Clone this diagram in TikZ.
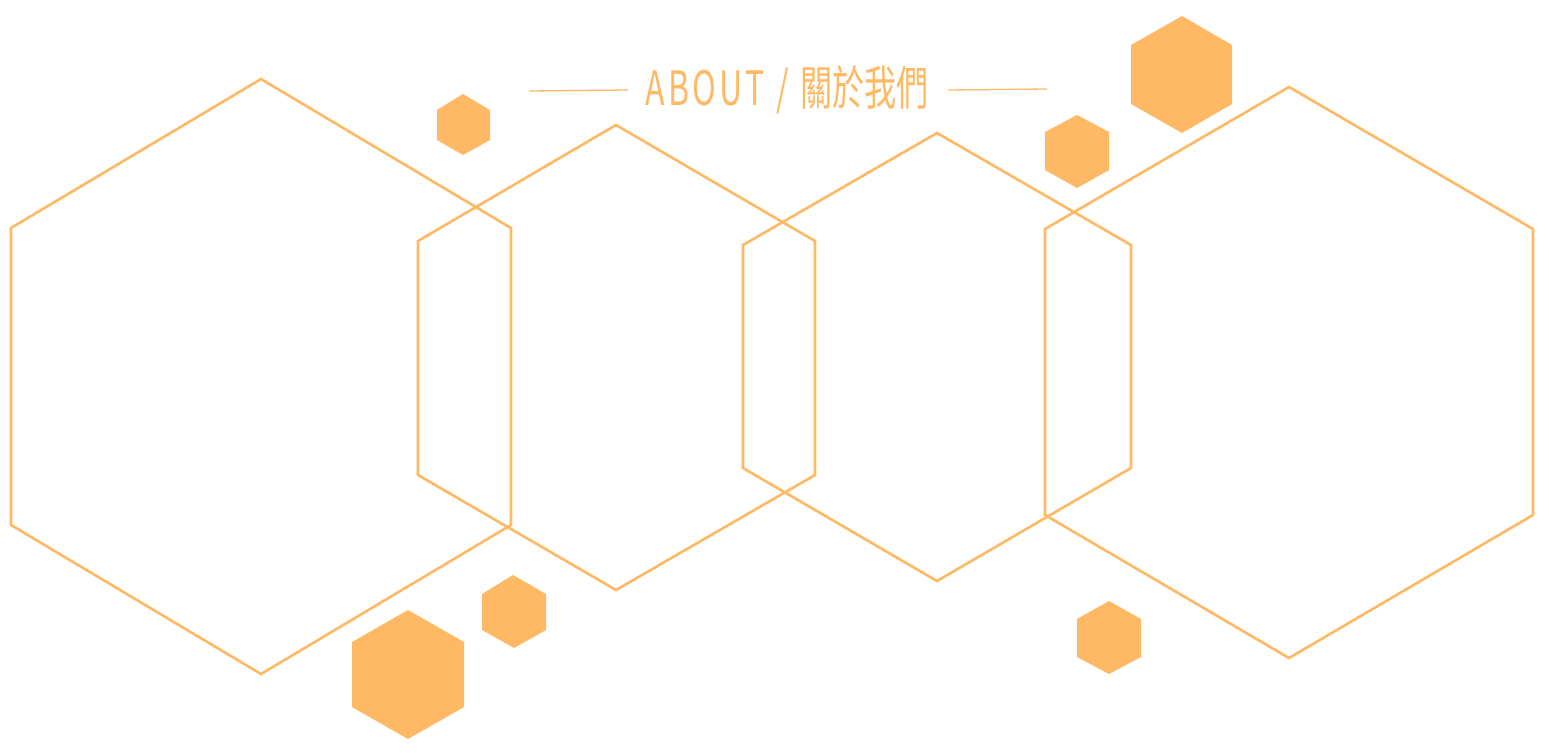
\documentclass[tikz,border=0pt]{standalone}
\usepackage{fontspec}
\newfontfamily\cjk{Noto Sans CJK TC}
\definecolor{hexor}{HTML}{FFB964}
\tikzset{
  hexline/.style={draw=hexor, line width=2.6pt, line join=miter},
  hexfill/.style={fill=hexor, draw=none},
  titleline/.style={draw=hexor, line width=1.3pt},
}
\begin{document}
\begin{tikzpicture}[x=1pt,y=-1pt]
\useasboundingbox[fill=white] (0,0) rectangle (1549,753);
% outline hexagons
\draw[hexline] (261,79) -- (511,228) -- (511,525) -- (261,674) -- (11,525) -- (11,228) -- cycle;
\draw[hexline] (616,125) -- (815,241) -- (815,475) -- (616,590) -- (418,475) -- (418,241) -- cycle;
\draw[hexline] (937,133) -- (1131,245) -- (1131,468) -- (937,581) -- (743,468) -- (743,245) -- cycle;
\draw[hexline] (1289,87) -- (1533,229) -- (1533,515) -- (1289,658) -- (1045,515) -- (1045,229) -- cycle;
% filled hexagons
\fill[hexfill] (463,94) -- (490,110) -- (490,140) -- (463,155) -- (437,140) -- (437,110) -- cycle;
\fill[hexfill] (1182,16) -- (1232,45) -- (1232,104) -- (1182,133) -- (1131,104) -- (1131,45) -- cycle;
\fill[hexfill] (1077,115) -- (1109,132) -- (1109,170) -- (1077,188) -- (1045,170) -- (1045,132) -- cycle;
\fill[hexfill] (513,575) -- (546,594) -- (546,630) -- (514,648) -- (482,630) -- (482,594) -- cycle;
\fill[hexfill] (408,610) -- (464,642) -- (464,707) -- (408,739) -- (352,707) -- (352,642) -- cycle;
\fill[hexfill] (1109,601) -- (1141,619) -- (1141,657) -- (1109,674) -- (1077,657) -- (1077,619) -- cycle;
% title
\node[text=hexor, inner sep=0pt] (title) at (787,90) {\resizebox{283pt}{40pt}{\cjk A\kern1ptB\kern1ptO\kern1ptU\kern1ptT\hspace{0.35em}/\hspace{0.35em}關於我們}};
\coordinate (l1) at (529,91);
\coordinate (r2) at (1047,89);
\draw[titleline] (l1) -- (628,90);
\draw[titleline] (948,90) -- (r2);
\end{tikzpicture}
\end{document}
